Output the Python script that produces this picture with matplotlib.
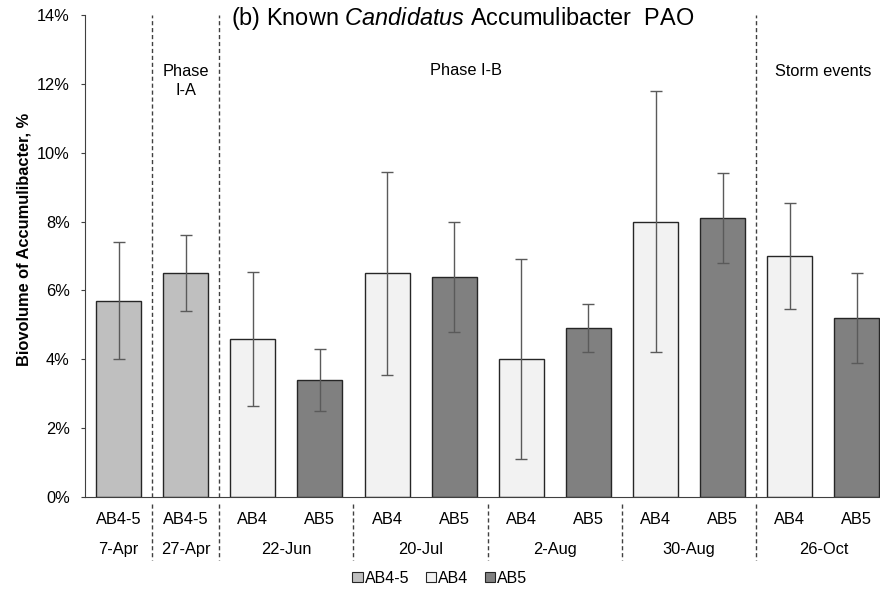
import numpy as np
import matplotlib
matplotlib.use("Agg")
import matplotlib.pyplot as plt
from matplotlib.patches import Patch
from matplotlib.ticker import PercentFormatter
import matplotlib.transforms as mtransforms

plt.rcParams['font.family'] = ['Liberation Sans', 'DejaVu Sans']
plt.rcParams['mathtext.fontset'] = 'custom'
plt.rcParams['mathtext.rm'] = 'Liberation Sans'
plt.rcParams['mathtext.it'] = 'Liberation Sans:italic'

# data (biovolume %, error = half length of error bar)
samples = ['AB4-5', 'AB4-5', 'AB4', 'AB5', 'AB4', 'AB5', 'AB4', 'AB5', 'AB4', 'AB5', 'AB4', 'AB5']
values = [5.7, 6.5, 4.6, 3.4, 6.5, 6.4, 4.0, 4.9, 8.0, 8.1, 7.0, 5.2]
errors = [1.7, 1.1, 1.95, 0.9, 2.95, 1.6, 2.9, 0.7, 3.8, 1.3, 1.55, 1.3]
dates = ['7-Apr', '27-Apr', '22-Jun', '20-Jul', '2-Aug', '30-Aug', '26-Oct']
date_pos = [0, 1, 2.5, 4.5, 6.5, 8.5, 10.5]
colors = {'AB4-5': '#bfbfbf', 'AB4': '#f2f2f2', 'AB5': '#808080'}

fs = 11.8

fig = plt.figure(figsize=(8.8, 5.96), dpi=100)
ax = fig.add_axes([0.0966, 0.1661, 0.9153, 0.8087])

x = np.arange(len(values))
ax.bar(x, values, width=0.67, color=[colors[s] for s in samples],
       edgecolor='#262626', linewidth=1.0, zorder=2)
ax.errorbar(x, values, yerr=errors, fmt='none', ecolor='#5a5a5a',
            elinewidth=1.0, capsize=4, capthick=1.0, zorder=3)

ax.set_xlim(-0.5, 11.5)
ax.set_ylim(0, 14)
ax.set_yticks(np.arange(0, 15, 2))
ax.yaxis.set_major_formatter(PercentFormatter(decimals=0))
ax.tick_params(axis='y', labelsize=fs, length=3, color='#404040', pad=8)
ax.set_xticks([])
for s in ['top', 'right']:
    ax.spines[s].set_visible(False)
ax.spines['left'].set_color('#404040')
ax.spines['bottom'].set_color('#404040')
ax.set_ylabel('Biovolume of Accumulibacter, %', fontsize=11.8, fontweight='bold')
ax.yaxis.set_label_coords(-0.067, 0.535)

trans = mtransforms.blended_transform_factory(ax.transData, ax.transAxes)
dash = (0, (3, 2))
# phase separators inside the plot
for xs in [0.5, 1.5, 9.5]:
    ax.plot([xs, xs], [0, 1.0], transform=trans, color='#404040', lw=1,
            linestyle=dash, clip_on=False, zorder=1)
# group separators under the axis
for xs in [0.5, 1.5, 3.5, 5.5, 7.5, 9.5]:
    ax.plot([xs, xs], [-0.015, -0.131], transform=trans, color='#404040', lw=1,
            linestyle=dash, clip_on=False)

for xi, s in zip(x, samples):
    ax.text(xi, -0.046, s, transform=trans, ha='center', va='center', fontsize=fs)
for xp, d in zip(date_pos, dates):
    ax.text(xp, -0.108, d, transform=trans, ha='center', va='center', fontsize=fs)

ax.text(1, 12.08, 'Phase\nI-A', ha='center', va='center', fontsize=fs, linespacing=1.3)
ax.text(5.17, 12.4, 'Phase I-B', ha='center', va='center', fontsize=fs)
ax.text(10.5, 12.35, 'Storm events', ha='center', va='center', fontsize=fs)

fig.text(0.262, 0.969, r'(b) Known $\it{Candidatus}$ Accumulibacter  PAO',
         ha='left', va='center', fontsize=16.9)

handles = [Patch(facecolor=colors[k], edgecolor='#262626', linewidth=0.8, label=k)
           for k in ['AB4-5', 'AB4', 'AB5']]
fig.legend(handles=handles, loc='center', bbox_to_anchor=(0.5, 0.03), ncol=3,
           frameon=False, fontsize=11.5, handlelength=0.65, handleheight=0.65,
           handletextpad=0.15, columnspacing=1.0)

fig.savefig('out.png', dpi=100)
